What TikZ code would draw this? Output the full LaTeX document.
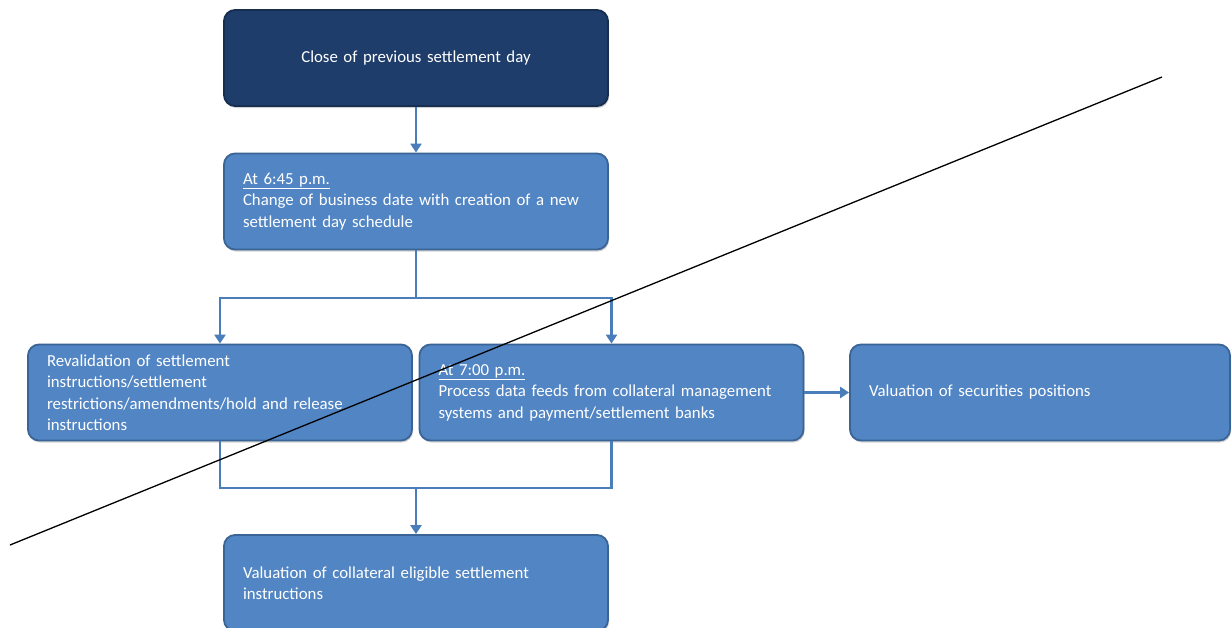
\documentclass[tikz,border=0pt]{standalone}
\usepackage{fontspec}
\setmainfont{Carlito}
\usetikzlibrary{arrows.meta,shadows}
\definecolor{boxblue}{HTML}{5285C4}
\definecolor{boxedge}{HTML}{3B6496}
\definecolor{navy}{HTML}{1F3D6B}
\definecolor{navyedge}{HTML}{172E50}
\definecolor{linkblue}{HTML}{4A7EBB}
\tikzset{
  flowbox/.style={rectangle, rounded corners=11pt, draw=boxedge, line width=1.8pt,
    fill=boxblue, text=white, minimum height=96pt, inner sep=0pt,
    font=\fontsize{16.8}{21.5}\selectfont, align=left,
    drop shadow={shadow xshift=1pt, shadow yshift=-2pt, opacity=0.35}},
  widebox/.style={flowbox, minimum width=384pt, text width=346pt},
  darkbox/.style={widebox, fill=navy, draw=navyedge, align=center},
  link/.style={draw=linkblue, line width=2.8pt},
  linkarrow/.style={link, -{Triangle[length=9pt,width=11pt]}},
  cutline/.style={draw=black, line width=1.3pt}
}
\begin{document}
\begin{tikzpicture}[x=1pt,y=-1pt]
\useasboundingbox (0,0) rectangle (1231,627);
\clip (0,0) rectangle (1231,627);
\fill[white] (0,0) rectangle (1231,627);

% process boxes
\node[darkbox] (close) at (416,58) {Close of previous settlement day};
\node[widebox] (bizdate) at (416,201.5) {\underline{At 6:45 p.m.}\\Change of business date with creation of a new\\settlement day schedule};
\node[widebox] (reval) at (220,392.5) {Revalidation of settlement\\instructions/settlement\\restrictions/amendments/hold and release\\instructions};
\node[widebox] (feeds) at (611.5,392.5) {\underline{At 7:00 p.m.}\\Process data feeds from collateral management\\systems and payment/settlement banks};
\node[flowbox, minimum width=380pt, text width=342pt] (secpos) at (1040,392.5) {Valuation of securities positions};
\node[widebox] (collval) at (416,583) {Valuation of collateral eligible settlement\\instructions};

% branching points
\coordinate (split) at (416,298);
\coordinate (merge) at (416,488);

% connectors
\draw[linkarrow] (close) -- (bizdate);
\draw[link] (bizdate) -- (split);
\draw[linkarrow] (split) -| (reval.north);
\draw[linkarrow] (split) -| (feeds.north);
\draw[linkarrow] (feeds) -- (secpos);
\draw[link] (reval.south) |- (merge);
\draw[link] (feeds.south) |- (merge);
\draw[linkarrow] (merge) -- (collval);

% diagonal strike line
\coordinate (cutA) at (10,545);
\coordinate (cutB) at (1162,77);
\draw[cutline] (cutA) -- (cutB);
\end{tikzpicture}
\end{document}
